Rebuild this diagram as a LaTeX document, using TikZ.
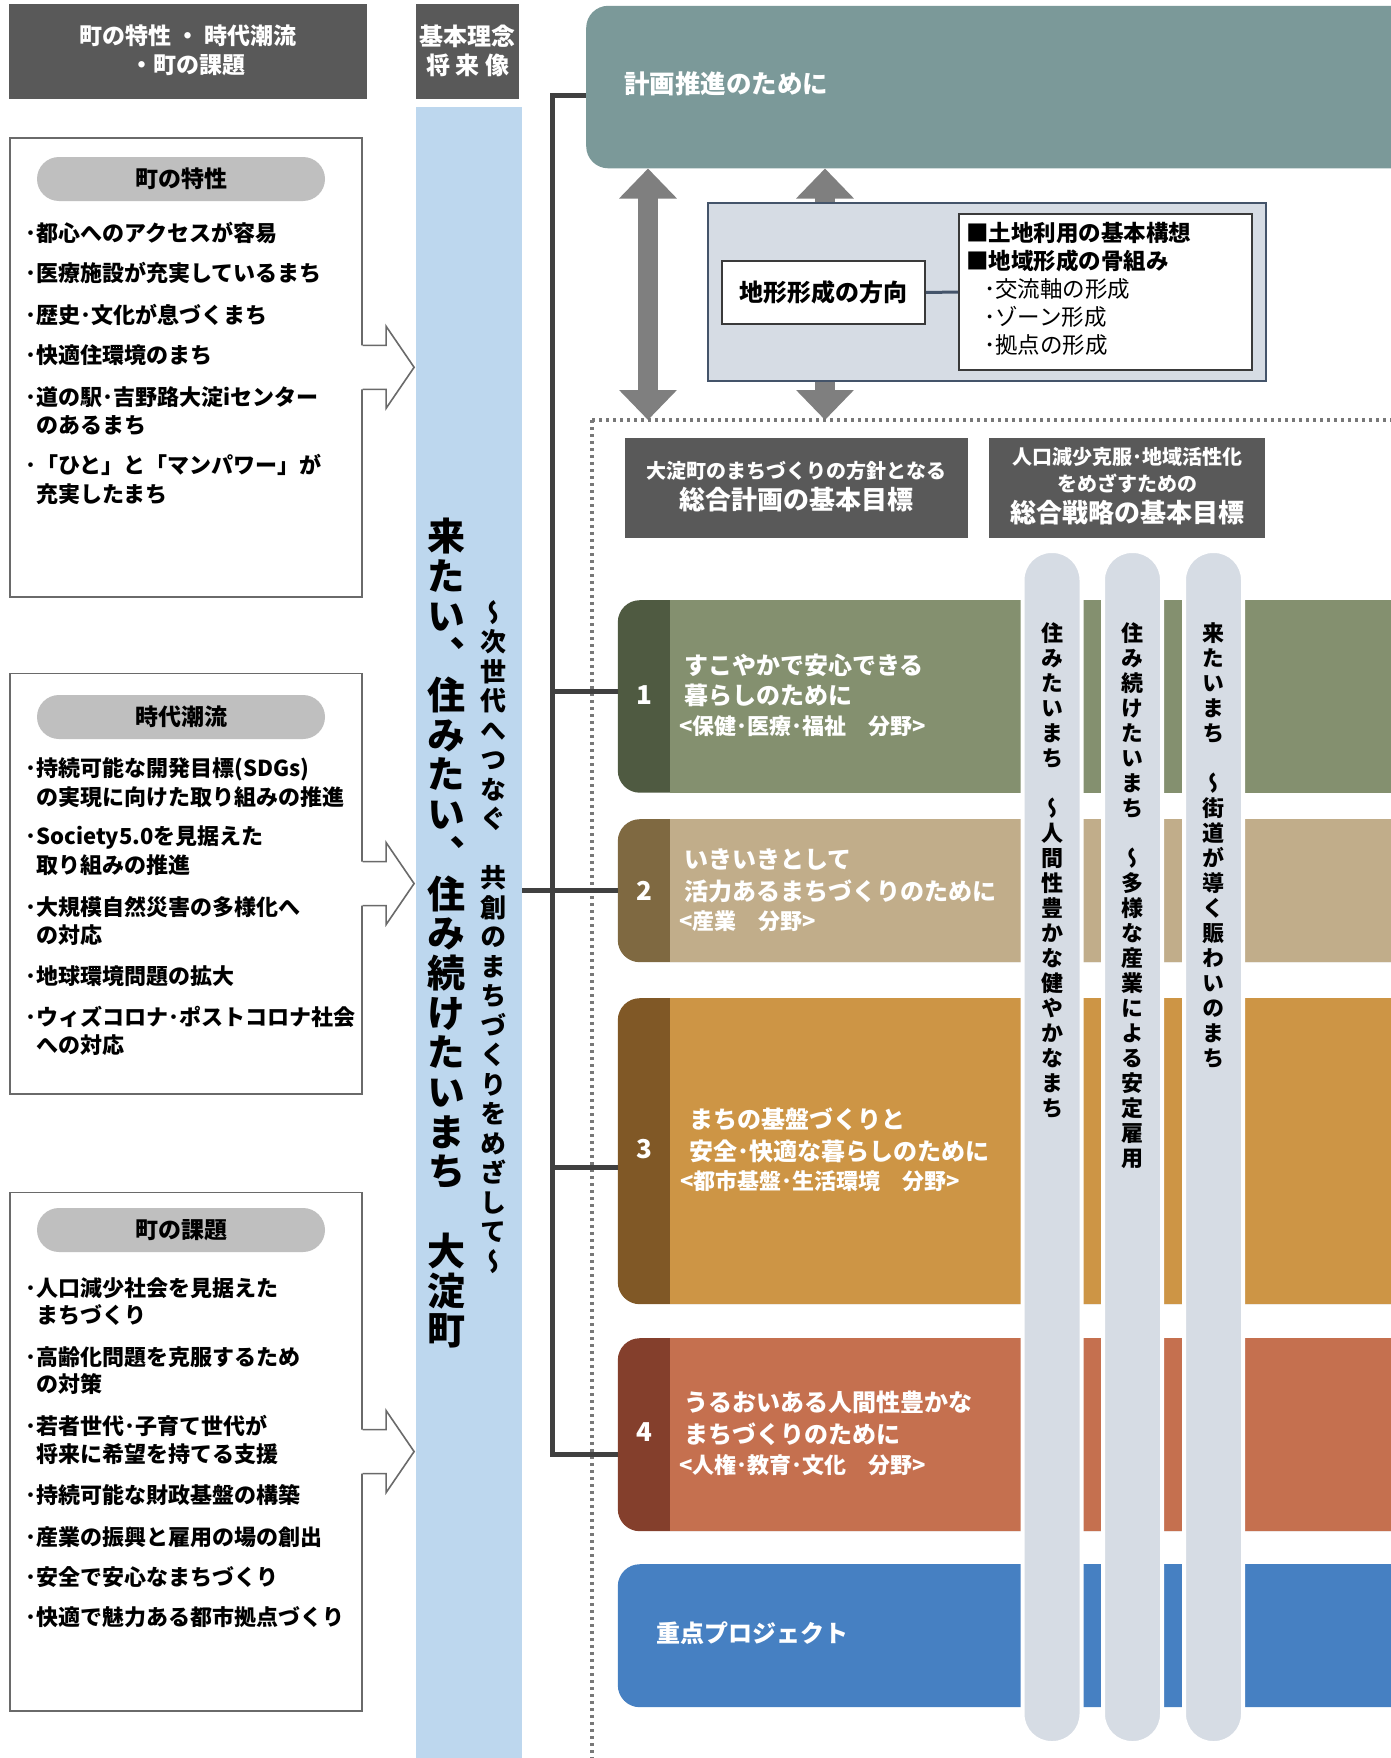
\documentclass[tikz,border=0pt]{standalone}
\usepackage{fontspec}
\setmainfont{Noto Sans CJK JP}
\newfontfamily\vjp[RawFeature=+vert]{Noto Sans CJK JP}
\usetikzlibrary{arrows.meta}
\definecolor{hdrgray}{HTML}{595959}
\definecolor{bluecol}{HTML}{BDD7EE}
\definecolor{tealc}{HTML}{7B9999}
\definecolor{pillgray}{HTML}{BFBFBF}
\definecolor{bordgray}{HTML}{6A6A6A}
\definecolor{dotgray}{HTML}{787878}
\definecolor{lboxc}{HTML}{D6DCE4}
\definecolor{lbord}{HTML}{44546A}
\definecolor{innerb}{HTML}{3A3A3A}
\definecolor{arrowgray}{HTML}{7F7F7F}
\definecolor{brkc}{HTML}{404040}
\definecolor{rAm}{HTML}{84906F}\definecolor{rAt}{HTML}{4F5A41}
\definecolor{rBm}{HTML}{C1AD8A}\definecolor{rBt}{HTML}{7F6941}
\definecolor{rCm}{HTML}{CD9545}\definecolor{rCt}{HTML}{805826}
\definecolor{rDm}{HTML}{C5704F}\definecolor{rDt}{HTML}{843F2C}
\definecolor{rEm}{HTML}{4680C2}
\definecolor{pillarc}{HTML}{D6DCE4}
\newcommand\fs[1]{\fontsize{#1}{#1}\selectfont}
\newcommand\cjkstrut{\vrule width 0pt height .88em depth .12em\relax}
\def\vtstop{\vtstop}
\def\vgap{\relax}
\def\vtaux#1{\ifx#1\vtstop\else\hbox to 1em{\hss#1\hss}\expandafter\vtaux\fi}
\newcommand\vtext[2]{\vbox{\baselineskip=#1\lineskiplimit=-100pt\lineskip=0pt\vtaux#2\vtstop}}
\newcommand\harrow[1]{%
  \fill[white] ([xshift=-2pt,yshift=22pt]#1.east) -- ++(25.5,0) -- ++(0,-19) -- ++(28,41) -- ++(-28,41) -- ++(0,-19) -- ++(-25.5,0) -- cycle;
  \draw[hollow] ([yshift=22pt]#1.east) -- ++(23.5,0) -- ++(0,-19) -- ++(28,41) -- ++(-28,41) -- ++(0,-19) -- ++(-23.5,0);}
\tikzset{gtip/.tip={Triangle[length=30pt,width=56pt]}}
\begin{document}
\begin{tikzpicture}[x=1pt,y=-1pt,
  lbl/.style={inner sep=0pt, execute at begin node=\cjkstrut},
  hdrbox/.style={fill=hdrgray, anchor=north west, inner sep=0pt},
  whtxt/.style={lbl, text=white, font=\fs{#1}\bfseries},
  lbox/.style={draw=bordgray, line width=1.6pt, fill=white, anchor=north west, inner sep=0pt},
  pill/.style={lbl, fill=pillgray, rounded corners=22pt, minimum width=288pt, minimum height=44pt, font=\fs{23}\bfseries},
  itm/.style={lbl, anchor=west, font=\fs{22}\bfseries},
  hollow/.style={draw=bordgray, line width=1.6pt, line join=miter},
  garrow/.style={draw=arrowgray, fill=arrowgray, line width=20pt},
  dotl/.style={draw=dotgray, line width=3.3pt, dash pattern=on 3.4pt off 3.6pt},
  dbox/.style={fill=hdrgray, anchor=north west, inner sep=0pt, minimum height=100pt},
  rowtab/.style={anchor=north west, rounded corners=22pt, minimum width=900pt, inner sep=0pt},
  rowmain/.style={anchor=north west, minimum width=850pt, inner sep=0pt},
  rowt/.style={lbl, anchor=west, text=white, font=\fs{24}\bfseries},
  rows/.style={lbl, anchor=west, text=white, font=\fs{22}\bfseries},
  numt/.style={lbl, text=white, font=\fs{26}\bfseries},
  pillar/.style={anchor=north, fill=pillarc, draw=white, line width=4pt, rounded corners=29pt, minimum width=59pt, minimum height=1192pt, inner sep=0pt},
  vtx/.style={anchor=north, inner sep=0pt, font=\vjp\fs{#1}\bfseries},
  brk/.style={draw=brkc, line width=5pt, line join=miter},
  rbtxt/.style={lbl, anchor=west, font=\fs{22.5}\bfseries},
  rstxt/.style={lbl, anchor=west, font=\fs{22.5}}
]
\useasboundingbox (0,0) rectangle (1391,1758);
\clip (0,0) rectangle (1391,1758);
\fill[white] (0,0) rectangle (1391,1758);

% headers
\node[hdrbox, minimum width=358pt, minimum height=95pt] (h1) at (9,3.5) {};
\node[whtxt=23] (h1a) at (188,36) {町の特性 ・ 時代潮流};
\node[whtxt=23] (h1b) at (188,65) {・町の課題};
\node[hdrbox, minimum width=103pt, minimum height=95pt] (h2) at (416,3.5) {};
\node[whtxt=24] (h2a) at (467.5,36) {基本理念};
\node[whtxt=24] (h2b) at (467.5,65) {将 来 像};

% blue column
\node[fill=bluecol, anchor=north west, minimum width=106pt, minimum height=1660pt, inner sep=0pt] (blue) at (416,106.5) {};
\node[vtx=38] (mainv) at (446,518) {\vtext{39.7pt}{来たい、住みたい、住み続けたいまち\vgap 大淀町}};
\node[vtx=26] (subv) at (493,600) {\vtext{29.5pt}{～次世代へつなぐ\vgap 共創のまちづくりをめざして～}};

% teal box
\node[fill=tealc, rounded corners=22pt, anchor=north west, minimum width=900pt, minimum height=162.5pt, inner sep=0pt] (teal) at (586,5.6) {};
\node[whtxt=25.5, anchor=west] (tealt) at (624,84) {計画推進のために};

% left boxes
\node[lbox, minimum width=352pt, minimum height=459pt] (b1) at (9,137) {};
\node[pill] (p1) at (181,179) {町の特性};
\node[itm] (a1) at (25,233) {･都心へのアクセスが容易};
\node[itm] (a2) at (25,273.5) {･医療施設が充実しているまち};
\node[itm] (a3) at (25,315) {･歴史･文化が息づくまち};
\node[itm] (a4) at (25,355) {･快適住環境のまち};
\node[itm] (a5) at (25,397) {･道の駅･吉野路大淀iセンター};
\node[itm] (a5b) at (36,425) {のあるまち};
\node[itm] (a6) at (25,465) {･「ひと」と「マンパワー」が};
\node[itm] (a6b) at (36,494) {充実したまち};

\node[lbox, minimum width=352pt, minimum height=420.5pt] (b2) at (9,672.5) {};
\node[pill] (p2) at (181,717) {時代潮流};
\node[itm] (c1) at (25,769) {･持続可能な開発目標(SDGs)};
\node[itm] (c1b) at (36,797) {の実現に向けた取り組みの推進};
\node[itm] (c2) at (25,837) {･Society5.0を見据えた};
\node[itm] (c2b) at (36,865) {取り組みの推進};
\node[itm] (c3) at (25,907) {･大規模自然災害の多様化へ};
\node[itm] (c3b) at (36,935) {の対応};
\node[itm] (c4) at (25,976) {･地球環境問題の拡大};
\node[itm] (c5) at (25,1017) {･ウィズコロナ･ポストコロナ社会};
\node[itm] (c5b) at (36,1045) {への対応};

\node[lbox, minimum width=352pt, minimum height=518.5pt] (b3) at (9,1191.5) {};
\node[pill] (p3) at (181,1230) {町の課題};
\node[itm] (d1) at (25,1288) {･人口減少社会を見据えた};
\node[itm] (d1b) at (36,1315) {まちづくり};
\node[itm] (d2) at (25,1357) {･高齢化問題を克服するため};
\node[itm] (d2b) at (36,1384) {の対策};
\node[itm] (d3) at (25,1426) {･若者世代･子育て世代が};
\node[itm] (d3b) at (36,1454) {将来に希望を持てる支援};
\node[itm] (d4) at (25,1495) {･持続可能な財政基盤の構築};
\node[itm] (d5) at (25,1537) {･産業の振興と雇用の場の創出};
\node[itm] (d6) at (25,1577) {･安全で安心なまちづくり};
\node[itm] (d7) at (25,1617) {･快適で魅力ある都市拠点づくり};

\harrow{b1}
\harrow{b2}
\harrow{b3}

% arrows and light box
\coordinate (ax1) at (648,0);
\coordinate (ax2) at (825,0);
\coordinate (dl) at (592,420);
\draw[garrow, gtip-gtip] (teal.south -| ax1) -- (dl -| ax1);
\draw[garrow, -gtip] (825,202) -- (teal.south -| ax2);
\draw[garrow, -gtip] (825,380) -- (dl -| ax2);
\node[draw=lbord, fill=lboxc, line width=2pt, anchor=north west, minimum width=558pt, minimum height=178pt, inner sep=0pt] (lb) at (707,202) {};
\node[lbl, draw=innerb, fill=white, line width=2pt, minimum width=203pt, minimum height=63pt, anchor=north west, font=\fs{24}\bfseries] (dir) at (721,260) {地形形成の方向};
\node[draw=innerb, fill=white, line width=2pt, minimum width=293pt, minimum height=156pt, anchor=north west, inner sep=0pt] (fw) at (958,213) {};
\draw[draw=lbord, line width=3pt] (dir.east) -- (fw.west);
\node[rbtxt] (fw1) at (966,233) {■土地利用の基本構想};
\node[rbtxt] (fw2) at (966,261) {■地域形成の骨組み};
\node[rstxt] (fw3) at (984,289) {･交流軸の形成};
\node[rstxt] (fw4) at (984,317) {･ゾーン形成};
\node[rstxt] (fw5) at (984,345) {･拠点の形成};

% dotted frame
\draw[dotl] (dl) -- (1400,420);
\draw[dotl] (dl) -- (592,1770);

% dark boxes
\node[dbox, minimum width=343pt] (ga) at (625,438) {};
\node[whtxt=20] (ga1) at (796.5,471) {大淀町のまちづくりの方針となる};
\node[whtxt=26] (ga2) at (796.5,500) {総合計画の基本目標};
\node[dbox, minimum width=276pt] (gb) at (989,438) {};
\node[whtxt=20] (gb1) at (1127,457) {人口減少克服･地域活性化};
\node[whtxt=20] (gb2) at (1127,484) {をめざすための};
\node[whtxt=26] (gb3) at (1127,513) {総合戦略の基本目標};

% rows
\node[rowtab, fill=rAt, minimum height=192.5pt] (r1) at (617.6,600) {};
\node[rowmain, fill=rAm, minimum height=192.5pt] (r1m) at (670,600) {};
\node[rowtab, fill=rBt, minimum height=143pt] (r2) at (617.6,819) {};
\node[rowmain, fill=rBm, minimum height=143pt] (r2m) at (670,819) {};
\node[rowtab, fill=rCt, minimum height=306pt] (r3) at (617.6,998) {};
\node[rowmain, fill=rCm, minimum height=306pt] (r3m) at (670,998) {};
\node[rowtab, fill=rDt, minimum height=193pt] (r4) at (617.6,1338) {};
\node[rowmain, fill=rDm, minimum height=193pt] (r4m) at (670,1338) {};
\node[rowtab, fill=rEm, minimum height=143pt] (r5) at (617.6,1564) {};

\node[numt] (n1) at (644,695) {1};
\node[numt] (n2) at (644,891) {2};
\node[numt] (n3) at (644,1149) {3};
\node[numt] (n4) at (644,1432) {4};

\node[rowt] (t11) at (684,665) {すこやかで安心できる};
\node[rowt] (t12) at (684,695) {暮らしのために};
\node[rows] (t13) at (679,726) {<保健･医療･福祉　分野>};
\node[rowt] (t21) at (684,859) {いきいきとして};
\node[rowt] (t22) at (684,891) {活力あるまちづくりのために};
\node[rows] (t23) at (679,921) {<産業　分野>};
\node[rowt] (t31) at (689,1119) {まちの基盤づくりと};
\node[rowt] (t32) at (689,1151) {安全･快適な暮らしのために};
\node[rows] (t33) at (680,1181) {<都市基盤･生活環境　分野>};
\node[rowt] (t41) at (684,1402) {うるおいある人間性豊かな};
\node[rowt] (t42) at (684,1434) {まちづくりのために};
\node[rows] (t43) at (679,1465) {<人権･教育･文化　分野>};
\node[rowt] (t51) at (656,1633) {重点プロジェクト};

% pillars
\node[pillar] (pl1) at (1052,549) {};
\node[pillar] (pl2) at (1132.5,549) {};
\node[pillar] (pl3) at (1213.5,549) {};
\node[vtx=22] (pt1) at (1052,622) {\vtext{25pt}{住みたいまち\vgap ～人間性豊かな健やかなまち}};
\node[vtx=22] (pt2) at (1132.5,622) {\vtext{25pt}{住み続けたいまち\vgap ～多様な産業による安定雇用}};
\node[vtx=22] (pt3) at (1213.5,622) {\vtext{25pt}{来たいまち\vgap ～街道が導く賑わいのまち}};

% bracket connectors
\coordinate (bx) at (552.6,0);
\path ([yshift=-8pt]teal.west) coordinate (k0);
\path ([yshift=4.6pt]r1.west) coordinate (k1);
\path (r2.west) coordinate (k2);
\path ([yshift=-16pt]r3.west) coordinate (k3);
\path ([yshift=-20pt]r4.west) coordinate (k4);
\draw[brk] (k0) -- (k0 -| bx) -- (k4 -| bx) -- (k4);
\draw[brk] (k1 -| bx) -- (k1);
\draw[brk] (blue.east |- k2) -- (k2);
\draw[brk] (k3 -| bx) -- (k3);
\end{tikzpicture}
\end{document}
